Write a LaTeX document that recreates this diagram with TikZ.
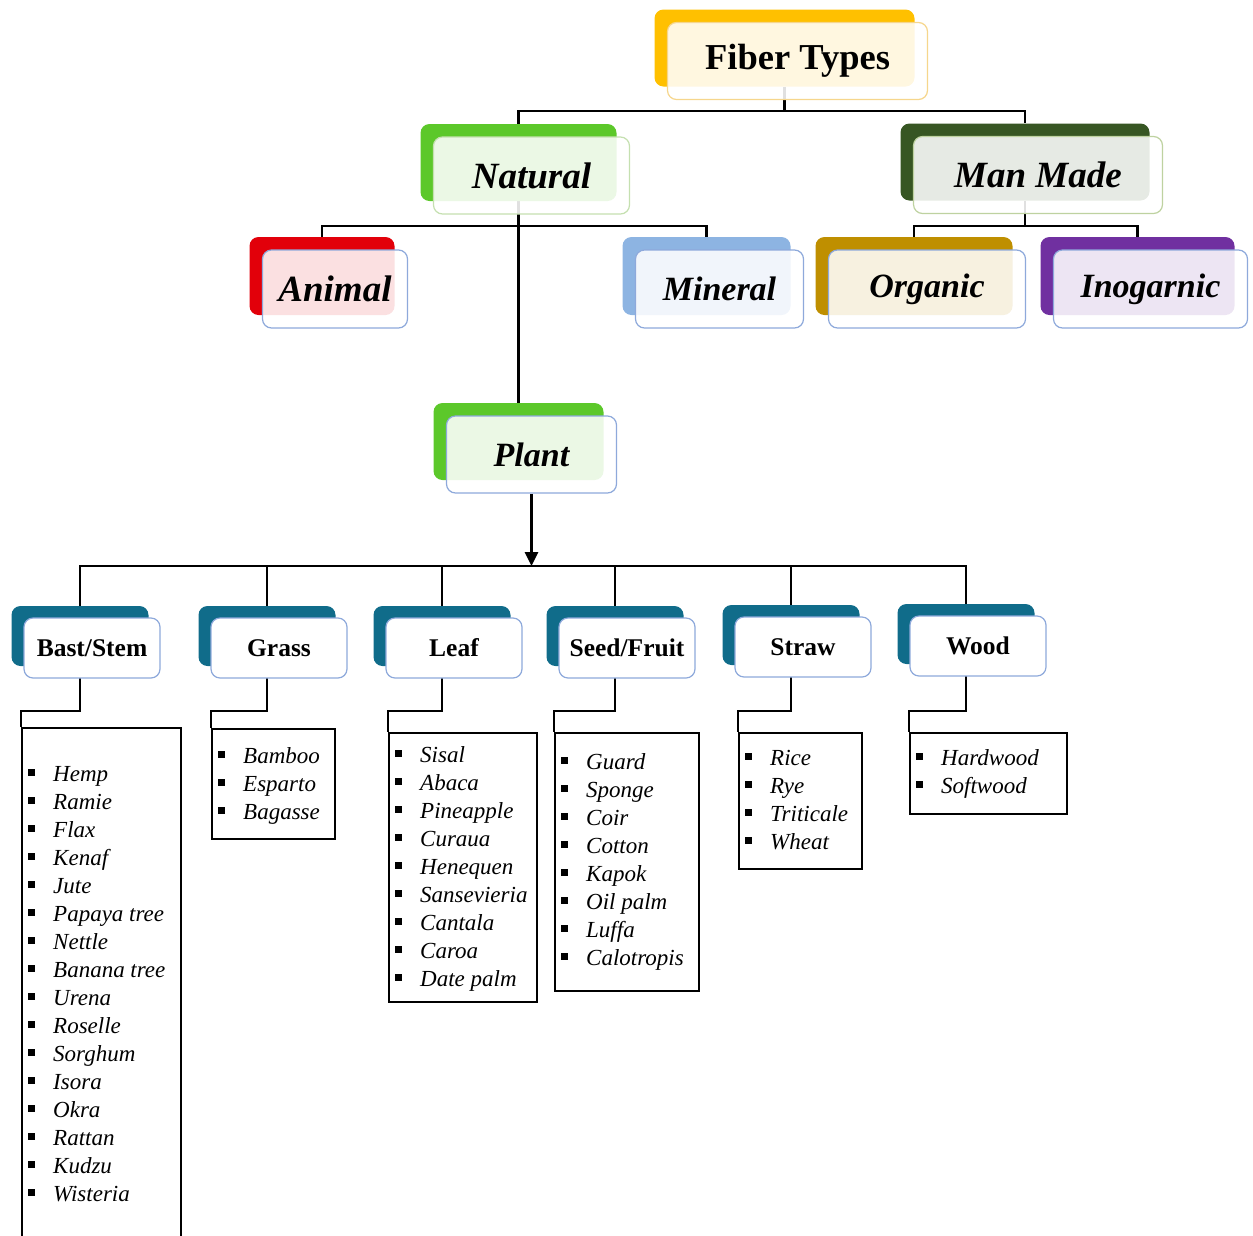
\documentclass[tikz,border=0pt]{standalone}
\usepackage{fontspec}
\setmainfont{Liberation Serif}
\usetikzlibrary{arrows.meta,backgrounds}

\definecolor{ftgold}{RGB}{255,192,0}
\definecolor{ftline}{RGB}{246,214,140}
\definecolor{natgreen}{RGB}{92,200,42}
\definecolor{natline}{RGB}{197,224,176}
\definecolor{mmgreen}{RGB}{55,86,35}
\definecolor{mmline}{RGB}{190,210,160}
\definecolor{anired}{RGB}{226,0,10}
\definecolor{minblue}{RGB}{141,180,226}
\definecolor{orggold}{RGB}{191,143,0}
\definecolor{inopurple}{RGB}{112,48,160}
\definecolor{boxline}{RGB}{142,169,219}
\definecolor{catteal}{RGB}{16,108,138}

\newcommand{\sqbullet}{\raisebox{5.5pt}{\rule{7pt}{7pt}}\hspace{18pt}}

\begin{document}
\begin{tikzpicture}[x=1pt, y=-1pt,
    back/.style={rounded corners=9pt, fill=#1, inner sep=0pt},
    front/.style={rounded corners=9pt, draw=#1, line width=1.2pt, fill=white,
      fill opacity=0.88, text opacity=1, inner sep=0pt},
    head/.style={font=\fontsize{37}{40}\selectfont\bfseries\itshape},
    subhead/.style={font=\fontsize{34}{38}\selectfont\bfseries\itshape},
    catback/.style={back=catteal, minimum width=137pt, minimum height=60pt},
    catfront/.style={front=boxline, fill opacity=1, minimum width=136pt,
      minimum height=60pt, font=\fontsize{25.5}{28}\selectfont\bfseries},
    link/.style={line width=2.8pt},
    listbox/.style={draw, line width=2pt, anchor=north west, inner sep=0pt},
    item/.style={anchor=west, inner sep=0pt, text height=16pt, text depth=5pt,
      font=\fontsize{23}{28}\selectfont\itshape}]
  \useasboundingbox (0,0) rectangle (1253,1235);

  % Top levels
  \node (ftypes-back) [back=ftgold, minimum width=260pt, minimum height=77pt] at (784.5,48) {};
  \node (ftypes) [front=ftline, minimum width=260pt, minimum height=77pt, xshift=13pt, yshift=-13pt,
    font=\fontsize{36.5}{40}\selectfont\bfseries] at (ftypes-back) {Fiber Types};

  \node (natural-back) [back=natgreen, minimum width=196pt, minimum height=77pt] at (518.5,162.5) {};
  \node (natural) [front=natline, minimum width=196pt, minimum height=77pt, xshift=13pt, yshift=-13pt,
    head] at (natural-back) {Natural};
  \node (manmade-back) [back=mmgreen, minimum width=249pt, minimum height=77pt] at (1025,162) {};
  \node (manmade) [front=mmline, minimum width=249pt, minimum height=77pt, xshift=13pt, yshift=-13pt,
    head] at (manmade-back) {Man Made};

  \node (animal-back) [back=anired, minimum width=145pt, minimum height=78pt] at (322,276) {};
  \node (animal) [front=boxline, minimum width=145pt, minimum height=78pt, xshift=13pt, yshift=-13pt,
    head] at (animal-back) {Animal};
  \node (mineral-back) [back=minblue, minimum width=168pt, minimum height=78pt] at (706.5,276) {};
  \node (mineral) [front=boxline, minimum width=168pt, minimum height=78pt, xshift=13pt, yshift=-13pt,
    subhead] at (mineral-back) {Mineral};
  \node (organic-back) [back=orggold, minimum width=197pt, minimum height=78pt] at (914,276) {};
  \node (organic) [front=boxline, minimum width=197pt, minimum height=78pt, xshift=13pt, yshift=-13pt,
    subhead] at (organic-back) {Organic};
  \node (inorganic-back) [back=inopurple, minimum width=194pt, minimum height=78pt] at (1137.5,276) {};
  \node (inorganic) [front=boxline, minimum width=194pt, minimum height=78pt, xshift=13pt, yshift=-13pt,
    subhead] at (inorganic-back) {Inogarnic};

  \node (plant-back) [back=natgreen, minimum width=170pt, minimum height=77pt] at (518.5,441.5) {};
  \node (plant) [front=boxline, minimum width=170pt, minimum height=77pt, xshift=13pt, yshift=-13pt,
    subhead] at (plant-back) {Plant};

  % Plant groups
  \node (bast-back) [catback] at (80,636) {};
  \node (bast) [catfront, xshift=12pt, yshift=-12pt] at (bast-back) {Bast/Stem};
  \node (grass-back) [catback] at (267,636) {};
  \node (grass) [catfront, xshift=12pt, yshift=-12pt] at (grass-back) {Grass};
  \node (leaf-back) [catback] at (442,636) {};
  \node (leaf) [catfront, xshift=12pt, yshift=-12pt] at (leaf-back) {Leaf};
  \node (seed-back) [catback] at (615,636) {};
  \node (seed) [catfront, xshift=12pt, yshift=-12pt] at (seed-back) {Seed/Fruit};
  \node (straw-back) [catback] at (791,635) {};
  \node (straw) [catfront, xshift=12pt, yshift=-12pt] at (straw-back) {Straw};
  \node (wood-back) [catback] at (966,634) {};
  \node (wood) [catfront, xshift=12pt, yshift=-12pt] at (wood-back) {Wood};

  % Lists
  \node (bast-list) [listbox, minimum width=159pt, minimum height=520pt] at (21,727) {};
  \foreach \t [count=\i from 0] in {Hemp, Ramie, Flax, Kenaf, Jute, Papaya tree, Nettle,
      Banana tree, Urena, Roselle, Sorghum, Isora, Okra, Rattan, Kudzu, Wisteria}
    \node (bast-\i) [item] at (28,776+28*\i) {\sqbullet\t};

  \node (grass-list) [listbox, minimum width=123pt, minimum height=110pt] at (211,728) {};
  \foreach \t [count=\i from 0] in {Bamboo, Esparto, Bagasse}
    \node (grass-\i) [item] at (218,758+28*\i) {\sqbullet\t};

  \node (leaf-list) [listbox, minimum width=148pt, minimum height=269pt] at (388,732) {};
  \foreach \t [count=\i from 0] in {Sisal, Abaca, Pineapple, Curaua, Henequen, Sansevieria,
      Cantala, Caroa, Date palm}
    \node (leaf-\i) [item] at (395,757+28*\i) {\sqbullet\t};

  \node (seed-list) [listbox, minimum width=144pt, minimum height=258pt] at (554,732) {};
  \foreach \t [count=\i from 0] in {Guard, Sponge, Coir, Cotton, Kapok, Oil palm, Luffa, Calotropis}
    \node (seed-\i) [item] at (561,764+28*\i) {\sqbullet\t};

  \node (straw-list) [listbox, minimum width=123pt, minimum height=136pt] at (738,732) {};
  \foreach \t [count=\i from 0] in {Rice, Rye, Triticale, Wheat}
    \node (straw-\i) [item] at (745,760+28*\i) {\sqbullet\t};

  \node (wood-list) [listbox, minimum width=157pt, minimum height=81pt] at (909,732) {};
  \foreach \t [count=\i from 0] in {Hardwood, Softwood}
    \node (wood-\i) [item] at (916,760+28*\i) {\sqbullet\t};

  % Connectors
  \coordinate (topbus) at (0,111);
  \coordinate (natbus) at (0,226);
  \coordinate (catbus) at (0,566);
  \begin{scope}[on background layer]
    \draw[link] (ftypes-back.south) -- (ftypes-back.south |- topbus);
    \draw[link] (natural-back.north) -- (natural-back.north |- topbus) -| (manmade-back.north);
    \draw[link] (animal-back.north) -- (animal-back.north |- natbus) -| (mineral-back.north);
    \draw[link] (natural-back.south) -- (plant-back.north);
    \draw[link] (manmade-back.south) -- (manmade-back.south |- natbus);
    \draw[link] (organic-back.north) -- (organic-back.north |- natbus) -| (inorganic-back.north);
    \draw[link, -{Triangle[length=14pt, width=13pt]}] (plant.south) -- (plant.south |- catbus);
    \draw[link] (bast-back.north) -- (bast-back.north |- catbus) -| (wood-back.north);
    \foreach \n in {grass, leaf, seed, straw}
      \draw[link] (\n-back.north) -- (\n-back.north |- catbus);
    \foreach \n in {bast, grass, leaf, seed, straw, wood} {
      \coordinate (\n-elbow) at (\n-list.north west |- 0,711);
      \draw[link] (\n-back.south) |- (\n-elbow) -- (\n-list.north west);
    }
  \end{scope}
\end{tikzpicture}
\end{document}
